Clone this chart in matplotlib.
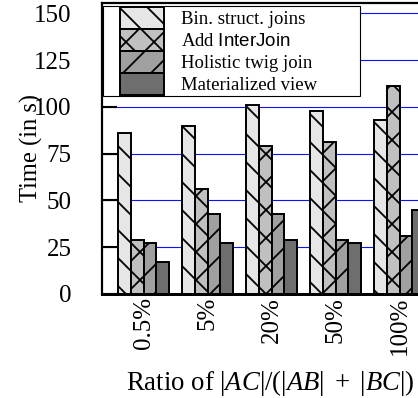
import numpy as np
import matplotlib
matplotlib.use("Agg")
import matplotlib.pyplot as plt
import matplotlib.patches as mpatches
from matplotlib.legend_handler import HandlerPatch

# -------------------------
# Data
# -------------------------
ratios = ["0.5%", "5%", "20%", "50%", "100%"]
bin_struct = [86, 90, 101, 98, 93]
add_interjoin = [29, 56, 79, 81, 111]
holistic = [27, 43, 43, 29, 31]
mat_view = [17, 27, 29, 27, 45]

series = [bin_struct, add_interjoin, holistic, mat_view]
labels = ["Bin. struct. joins", r"Add $\mathsf{InterJoin}$",
          "Holistic twig join", "Materialized view"]
colors = ["#e6e6e6", "#c0c0c0", "#a0a0a0", "#6e6e6e"]
hatches = ["\\", "x", "/", ""]

# -------------------------
# Style
# -------------------------
# dpi chosen so the hatch spacing matches the original (~28 px)
DPI = 84


def px(v):
    # pixel size -> points
    return v * 72 / DPI


plt.rcParams["font.family"] = ["Liberation Serif", "DejaVu Serif"]
plt.rcParams["mathtext.fontset"] = "custom"
plt.rcParams["mathtext.rm"] = "Liberation Serif"
plt.rcParams["mathtext.it"] = "Liberation Serif:italic"
plt.rcParams["mathtext.sf"] = "Liberation Sans"
plt.rcParams["hatch.linewidth"] = px(1.8)
plt.rcParams["hatch.color"] = "black"

fig = plt.figure(figsize=(418 / DPI, 398 / DPI), dpi=DPI)
ax = fig.add_axes([102 / 418, 104 / 398, 336 / 418, 291 / 398])

# -------------------------
# Bars
# -------------------------
x = np.arange(len(ratios))
width = 0.2
bars = []
for i, vals in enumerate(series):
    b = ax.bar(x - 0.3 + i * width, vals, width, color=colors[i], hatch=hatches[i],
               edgecolor="black", linewidth=px(1.95), label=labels[i], zorder=2)
    bars.append(b)

ax.set_xlim(-0.65, 4.6)
ax.set_ylim(0, 155.5)
ax.set_yticks([0, 25, 50, 75, 100, 125, 150])
for y in [25, 50, 75, 100, 125, 150]:
    ax.axhline(y, color="#1010ff", linewidth=px(1.1), zorder=1)

ax.set_xticks(x)
ax.set_xticklabels(ratios, rotation=90, fontsize=px(25), va="top")
ax.tick_params(axis="x", length=0, pad=px(2.8))
ax.tick_params(axis="y", direction="in", length=px(15), width=px(2.1),
               pad=px(30.5), labelsize=px(25))

for side in ["left", "top"]:
    ax.spines[side].set_linewidth(px(2.2))
ax.spines["bottom"].set_linewidth(px(3))
ax.spines["right"].set_visible(False)

ax.set_ylabel("Time (in s)", fontsize=px(24.5))
ax.yaxis.set_label_coords(-0.175, 0.5)
ax.set_xlabel(r"Ratio of $|AC|/(|AB|\ +\ |BC|)$", fontsize=px(26.8), va="top")
ax.xaxis.set_label_coords(0.5, -0.255)


# legend swatches sit a bit right of the frame edge, like the original
def shifted_patch(legend, orig_handle, xdescent, ydescent, width, height, fontsize):
    w = px(44)
    return mpatches.Rectangle((width - w - xdescent, -ydescent), w, height)


leg = ax.legend(handles=[b[0] for b in bars], labels=labels,
                loc="upper left", bbox_to_anchor=(0.003, 0.5, 0.765, 0.4897),
                mode="expand", fontsize=px(18.75),
                labelspacing=0.0, handleheight=1.43, handlelength=3.2,
                handletextpad=0.9, borderpad=0.05, borderaxespad=0.0,
                fancybox=False, framealpha=1, edgecolor="black",
                handler_map={mpatches.Rectangle: HandlerPatch(patch_func=shifted_patch)})
leg.get_frame().set_linewidth(px(1.1))
leg.set_zorder(5)

fig.savefig("out.png", dpi=DPI)
